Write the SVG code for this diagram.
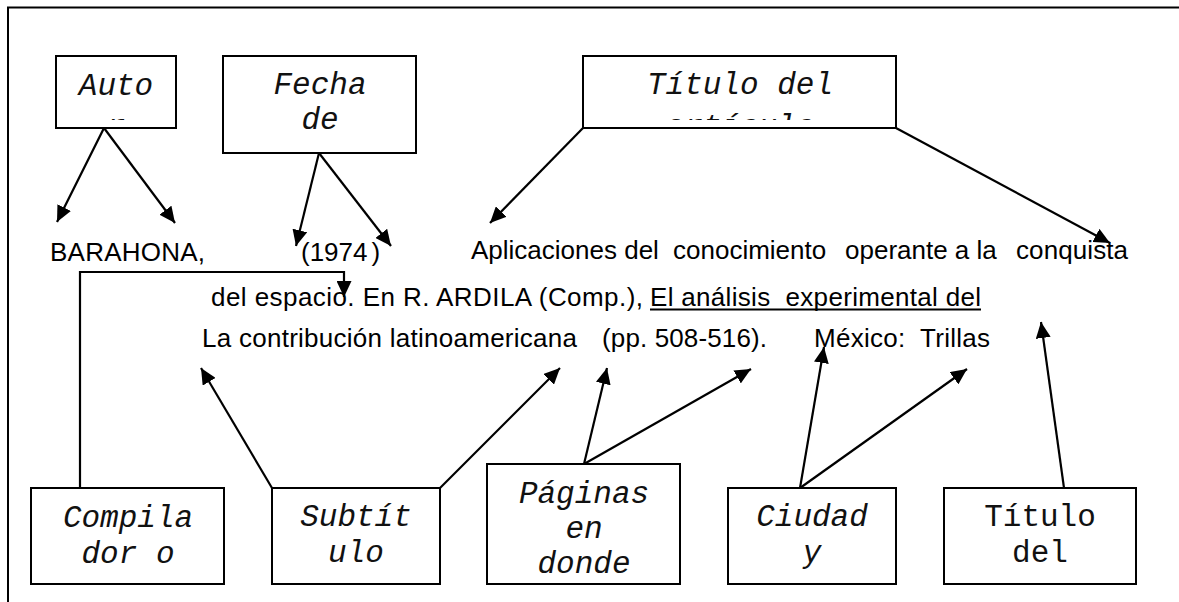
<svg xmlns="http://www.w3.org/2000/svg" width="1179" height="602" viewBox="0 0 1179 602">
<style>
.box{fill:#fff;stroke:#000;stroke-width:2}
.lbl{font-family:"Liberation Mono","Courier New",monospace;font-size:31px;font-style:italic;fill:#111;text-anchor:middle}
.up{font-style:normal}
.ref{font-family:"Liberation Sans",Arial,sans-serif;font-size:26px;fill:#000;white-space:pre}
.con{fill:none;stroke:#000;stroke-width:2.2}
.frame{fill:none;stroke:#000;stroke-width:2}
</style>
<defs>
<marker id="ah" markerUnits="userSpaceOnUse" markerWidth="17" markerHeight="15" refX="16" refY="7.5" orient="auto">
<path d="M0,0 L16,7.5 L0,15 z" fill="#000"/>
</marker>
<clipPath id="cAuto"><rect x="56" y="56" width="120" height="64"/></clipPath>
<clipPath id="cTit"><rect x="583" y="56" width="313" height="64"/></clipPath>
</defs>
<g id="frame">
<line class="frame" x1="7" y1="7.5" x2="1179" y2="7.5"/>
<line class="frame" x1="8" y1="7" x2="8" y2="602"/>
</g>
<g id="reference-text">
<text class="ref" x="50" y="261" textLength="155" lengthAdjust="spacing">BARAHONA,</text>
<text class="ref" x="301" y="261">(1974<tspan dx="4">)</tspan></text>
<text class="ref" x="471" y="259">Aplicaciones del</text>
<text class="ref" x="673" y="259">conocimiento</text>
<text class="ref" x="845" y="259">operante a la</text>
<text class="ref" x="1016" y="259" textLength="112" lengthAdjust="spacing">conquista</text>
<text class="ref" x="211" y="306" textLength="432" lengthAdjust="spacing">del espacio. En R. ARDILA (Comp.),</text>
<text class="ref" x="650" y="306" textLength="331" lengthAdjust="spacing">El análisis  experimental del</text>
<line x1="650" y1="309.5" x2="981" y2="309.5" stroke="#000" stroke-width="1.8"/>
<text class="ref" x="202" y="347" textLength="375" lengthAdjust="spacing">La contribución latinoamericana</text>
<text class="ref" x="602" y="347" textLength="165" lengthAdjust="spacing">(pp. 508-516).</text>
<text class="ref" x="814" y="347" textLength="176" lengthAdjust="spacing">México:  Trillas</text>
</g>
<g id="node-autor">
<rect class="box" x="56" y="56" width="120" height="72"/>
<g clip-path="url(#cAuto)">
<text class="lbl" x="116" y="95">Auto</text>
<text class="lbl" x="116" y="136">r</text>
</g>
</g>
<g id="node-fecha">
<rect class="box" x="223" y="56" width="193" height="97"/>
<text class="lbl" x="320" y="94">Fecha</text>
<text class="lbl" x="320" y="129">de</text>
</g>
<g id="node-titulo-articulo">
<rect class="box" x="583" y="56" width="313" height="72"/>
<g clip-path="url(#cTit)">
<text class="lbl" x="740" y="94">Título del</text>
<text class="lbl" x="740" y="136">artículo</text>
</g>
</g>
<g id="node-compilador">
<rect class="box" x="31" y="488" width="193" height="96"/>
<text class="lbl" x="128" y="527">Compila</text>
<text class="lbl" x="128" y="563">dor o</text>
</g>
<g id="node-subtitulo">
<rect class="box" x="272" y="488" width="168" height="96"/>
<text class="lbl" x="356" y="526">Subtít</text>
<text class="lbl" x="356" y="562">ulo</text>
</g>
<g id="node-paginas">
<rect class="box" x="487" y="464" width="193" height="120"/>
<text class="lbl" x="584" y="503">Páginas</text>
<text class="lbl" x="584" y="538">en</text>
<text class="lbl" x="584" y="573">donde</text>
</g>
<g id="node-ciudad">
<rect class="box" x="728" y="488" width="168" height="96"/>
<text class="lbl" x="812" y="526">Ciudad</text>
<text class="lbl" x="812" y="562">y</text>
</g>
<g id="node-titulo-libro">
<rect class="box" x="944" y="488" width="192" height="96"/>
<text class="lbl up" x="1040" y="526">Título</text>
<text class="lbl up" x="1040" y="562">del</text>
</g>
<g id="connectors">
<line class="con" x1="104" y1="128" x2="57" y2="222" marker-end="url(#ah)"/>
<line class="con" x1="104" y1="128" x2="175" y2="223" marker-end="url(#ah)"/>
<line class="con" x1="319" y1="153" x2="296" y2="246" marker-end="url(#ah)"/>
<line class="con" x1="319" y1="153" x2="391" y2="246" marker-end="url(#ah)"/>
<line class="con" x1="583" y1="128" x2="490" y2="223" marker-end="url(#ah)"/>
<line class="con" x1="896" y1="128" x2="1110" y2="243" marker-end="url(#ah)"/>
<polyline class="con" points="80,488 80,272 344,272 344,297" marker-end="url(#ah)"/>
<line class="con" x1="272" y1="488" x2="201" y2="368" marker-end="url(#ah)"/>
<line class="con" x1="440" y1="488" x2="560" y2="368" marker-end="url(#ah)"/>
<line class="con" x1="584" y1="464" x2="607" y2="368" marker-end="url(#ah)"/>
<line class="con" x1="584" y1="464" x2="751" y2="369" marker-end="url(#ah)"/>
<line class="con" x1="800" y1="488" x2="824" y2="347" marker-end="url(#ah)"/>
<line class="con" x1="800" y1="488" x2="967" y2="369" marker-end="url(#ah)"/>
<line class="con" x1="1064" y1="488" x2="1041" y2="322" marker-end="url(#ah)"/>
</g>
</svg>
